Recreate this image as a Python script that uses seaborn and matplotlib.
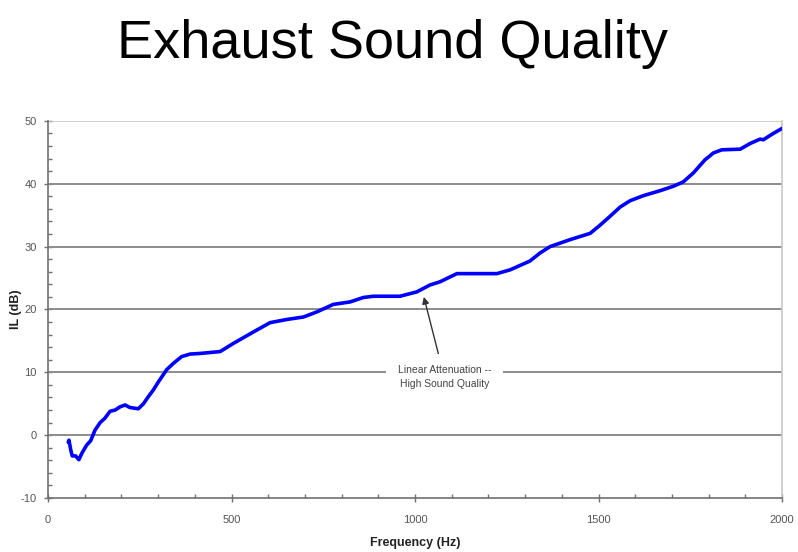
import numpy as np
import pandas as pd
import seaborn as sns
import matplotlib.pyplot as plt
from matplotlib.ticker import MultipleLocator

# Values
freq = [55, 57, 62, 66, 75, 84, 92, 105, 116, 128, 142, 155, 169, 183, 196, 210,
        223, 246, 260, 273, 287, 301, 323, 341, 364, 387, 414, 469, 505, 559, 605,
        650, 696, 732, 777, 823, 859, 886, 959, 1005, 1041, 1068, 1114, 1223, 1259,
        1313, 1341, 1368, 1422, 1477, 1504, 1531, 1559, 1586, 1622, 1668, 1704,
        1731, 1758, 1790, 1813, 1836, 1886, 1913, 1940, 1949, 1976, 2000]
il_db = [-1.1, -0.8, -2.4, -3.3, -3.3, -3.9, -2.9, -1.6, -0.9, 0.8, 2.0, 2.7, 3.8,
         4.0, 4.5, 4.8, 4.4, 4.2, 5.0, 6.1, 7.2, 8.5, 10.4, 11.4, 12.5, 12.9, 13.0,
         13.3, 14.6, 16.4, 17.9, 18.4, 18.8, 19.6, 20.8, 21.2, 21.9, 22.1, 22.1,
         22.8, 23.9, 24.4, 25.7, 25.7, 26.3, 27.7, 29.0, 30.0, 31.1, 32.1, 33.4,
         34.8, 36.3, 37.3, 38.1, 38.9, 39.6, 40.3, 41.7, 43.8, 44.9, 45.4, 45.5,
         46.4, 47.1, 47.0, 48.0, 48.8]

y_ticks = [-10, 0, 10, 20, 30, 40, 50]
x_ticks = [0, 500, 1000, 1500, 2000]

df = pd.DataFrame({'Frequency': freq, 'IL': il_db})

sns.set_style("white")
plt.rcParams['font.family'] = ['Liberation Sans', 'DejaVu Sans']
plt.rcParams['axes.unicode_minus'] = False

fig = plt.figure(figsize=(7.98, 5.52), dpi=100)
ax = fig.add_axes([0.0602, 0.0978, 0.9198, 0.6832])

# horizontal grid lines
for yv in y_ticks[1:-1]:
    ax.axhline(yv, color='#8c8c8c', lw=1.4, zorder=1)
ax.axhline(50, color='#c8c8c8', lw=1.2, zorder=1)

sns.lineplot(data=df, x='Frequency', y='IL', color='#0000ff', lw=2.6, ax=ax, zorder=3,
             solid_joinstyle='round', solid_capstyle='round')

ax.set_xlim(0, 2000)
ax.set_ylim(-10, 50)
ax.set_xticks(x_ticks)
ax.set_yticks(y_ticks)
ax.xaxis.set_minor_locator(MultipleLocator(100))
ax.yaxis.set_minor_locator(MultipleLocator(2))

for side in ['left', 'bottom']:
    ax.spines[side].set_color('#707070')
    ax.spines[side].set_linewidth(1.2)
ax.spines['top'].set_visible(False)
ax.spines['right'].set_color('#c8c8c8')
ax.spines['right'].set_linewidth(1.2)

ax.tick_params(axis='both', which='major', direction='inout', length=6, width=1,
               color='#707070', labelsize=8, labelcolor='#555555', pad=5, left=True, bottom=True)
ax.tick_params(axis='both', which='minor', direction='in', length=3, width=1,
               color='#707070', left=True, bottom=True)
ax.tick_params(axis='x', which='major', pad=9)

ax.set_xlabel('Frequency (Hz)', fontsize=9, fontweight='bold', color='#222222', labelpad=9)
ax.set_ylabel('IL (dB)', fontsize=9, fontweight='bold', color='#222222')
ax.yaxis.set_label_coords(-0.036, 0.5)

ax.annotate('Linear Attenuation --\nHigh Sound Quality', xy=(1024, 22.0), xytext=(1080, 9.2),
            ha='center', va='center', fontsize=7.5, color='#444444', linespacing=1.5,
            bbox=dict(boxstyle='square,pad=1.1', fc='white', ec='none'),
            arrowprops=dict(arrowstyle='-|>', color='#333333', lw=1, shrinkA=0, shrinkB=0,
                            mutation_scale=10),
            zorder=4)

fig.text(0.492, 0.92, 'Exhaust Sound Quality', ha='center', va='center',
         fontsize=39, color='black')

fig.savefig('out.png', dpi=100)
